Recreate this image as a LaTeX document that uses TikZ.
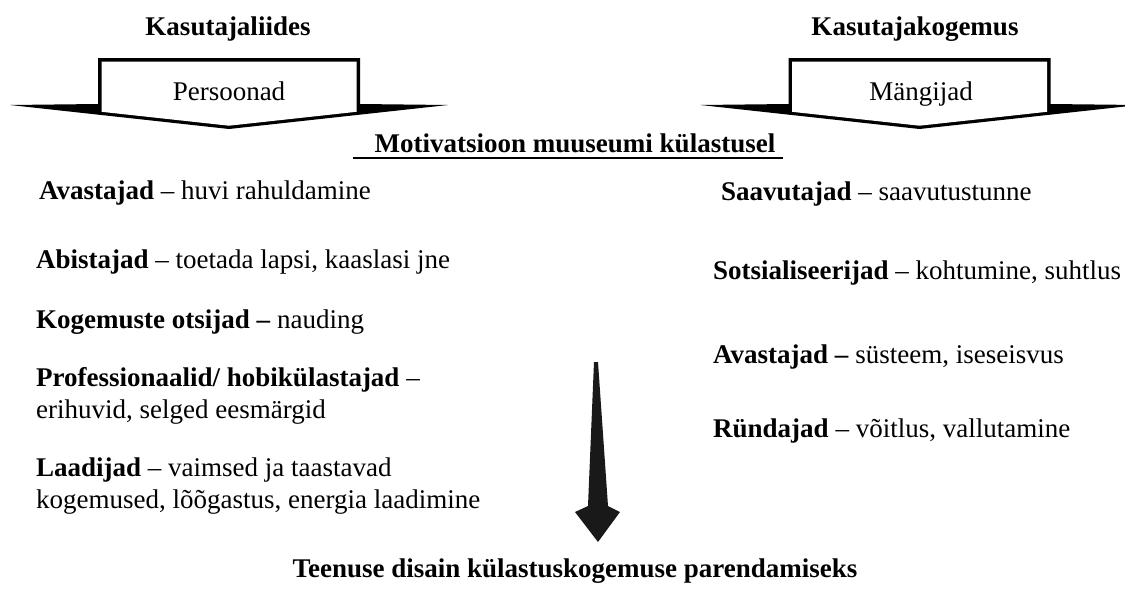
\documentclass[tikz,border=0pt]{standalone}
\usepackage{fontspec}
\setmainfont{Liberation Serif}
\begin{document}
\begin{tikzpicture}[x=1pt,y=-1pt,
  txt/.style={inner sep=0pt, font=\fontsize{27}{32}\selectfont},
  item/.style={txt, anchor=base west},
  head/.style={txt, anchor=base, font=\fontsize{27}{32}\selectfont\bfseries},
  silhouette/.style={fill=black},
  hollow/.style={fill=white},
  bigarrow/.style={fill=black!90}
]
\useasboundingbox (0,0) rectangle (1125,590);
\clip (0,0) rectangle (1125,590);

% block arrow: black outer silhouette with a white inner face
% #1 = centre x, wings reach 219 either side, box half width 131
\newcommand{\blockarrow}[1]{%
  \fill[silhouette] (#1-131,58) -- (#1+131,58) -- (#1+131,104) -- (#1+219,105)
    -- (#1,129) -- (#1-219,105) -- (#1-131,104) -- cycle;
  \fill[hollow] (#1-127.5,61.5) -- (#1+127.5,61.5) -- (#1+127.5,111.8)
    -- (#1,125.7) -- (#1-127.5,111.8) -- cycle;
}

% left: user interface / personas
\blockarrow{229}
% right: user experience / players
\blockarrow{919.5}

\node[head] (ui) at (228,35) {Kasutajaliides};
\node[head] (ux) at (915,35) {Kasutajakogemus};
\node[txt, anchor=base] (pers) at (229,100) {Persoonad};
\node[txt, anchor=base] (mang) at (921,100) {Mängijad};

% central heading with rule
\node[head] (motiv) at (575,152) {Motivatsioon muuseumi külastusel};
\coordinate (ulL) at (353,158);
\coordinate (ulR) at (783,158);
\draw[line width=2.5pt] (ulL) -- (ulR);

% left column
\node[item] (l1) at (39,199) {\textbf{Avastajad} – huvi rahuldamine};
\node[item] (l2) at (36,268) {\textbf{Abistajad} – toetada lapsi, kaaslasi jne};
\node[item] (l3) at (36,328) {\textbf{Kogemuste otsijad –} nauding};
\node[item] (l4a) at (36,386) {\textbf{Professionaalid/ hobikülastajad} –};
\node[item] (l4b) at (36,418) {erihuvid, selged eesmärgid};
\node[item] (l5a) at (36,476) {\textbf{Laadijad} – vaimsed ja taastavad};
\node[item] (l5b) at (36,508) {kogemused, lõõgastus, energia laadimine};

% right column
\node[item] (r1) at (721,200) {\textbf{Saavutajad} – saavutustunne};
\node[item] (r2) at (713,279) {\textbf{Sotsialiseerijad} – kohtumine, suhtlus};
\node[item] (r3) at (713,363) {\textbf{Avastajad –} süsteem, iseseisvus};
\node[item] (r4) at (713,437) {\textbf{Ründajad} – võitlus, vallutamine};

% downward arrow to the conclusion
\fill[bigarrow] (594,362) -- (598,362) -- (608,506) -- (620,512) -- (598,542)
  -- (575,512) -- (588,506) -- cycle;

\node[head] (design) at (575,577) {Teenuse disain külastuskogemuse parendamiseks};
\end{tikzpicture}
\end{document}
